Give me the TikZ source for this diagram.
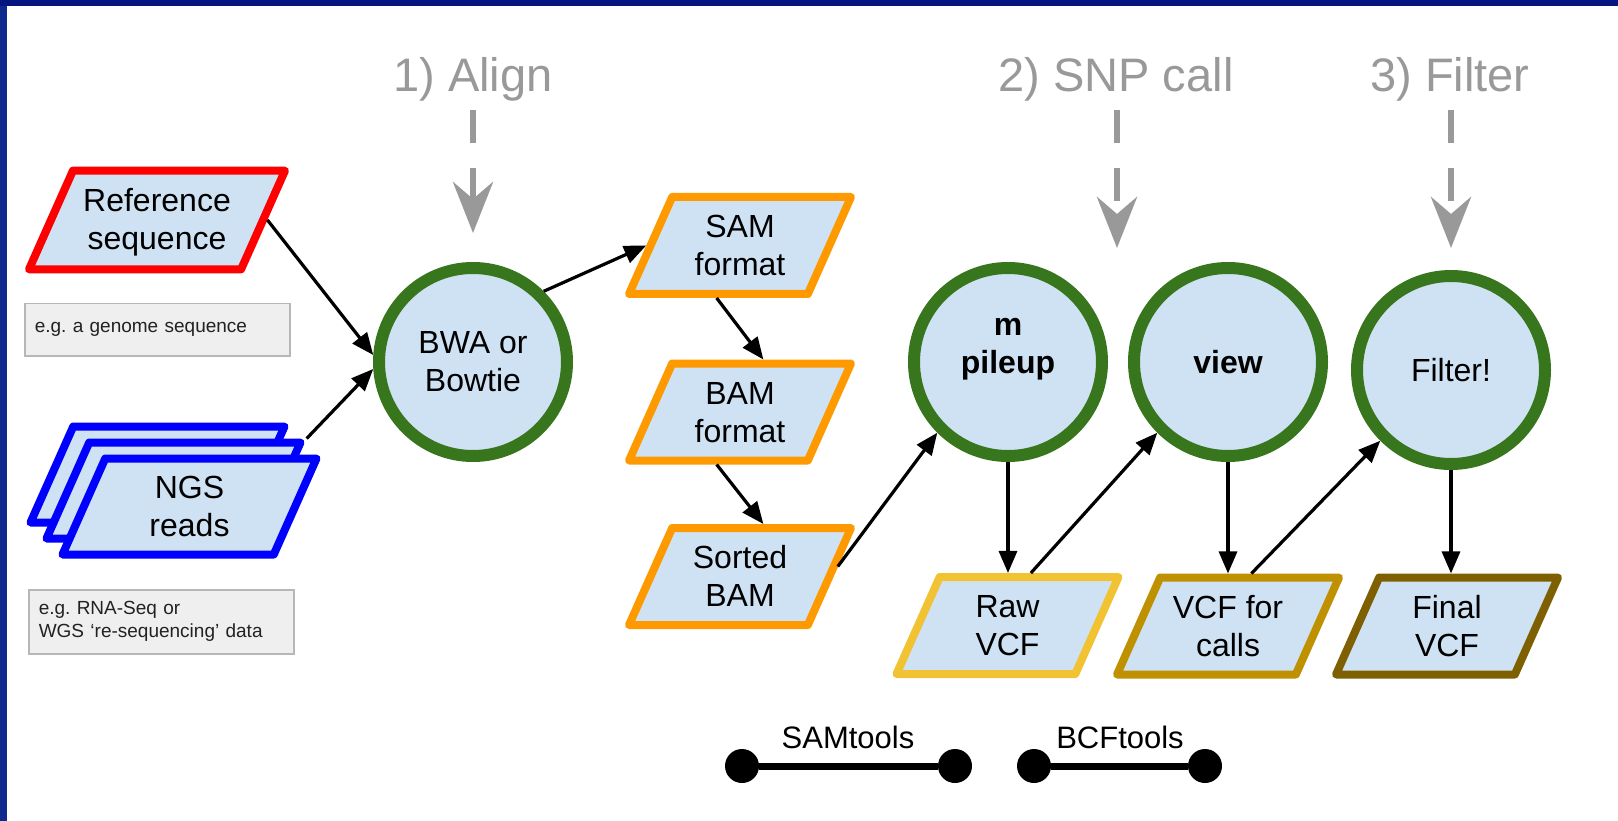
\documentclass[tikz,border=0pt]{standalone}
\usepackage{fontspec}
\setmainfont{Liberation Sans}
\usetikzlibrary{shapes.geometric,arrows.meta}
\frenchspacing

\definecolor{nodefill}{HTML}{CFE2F3}
\definecolor{ringgreen}{HTML}{38761D}
\definecolor{refred}{HTML}{FF0000}
\definecolor{readblue}{HTML}{0000FF}
\definecolor{bamorange}{HTML}{FF9900}
\definecolor{rawyellow}{HTML}{F1C232}
\definecolor{callgold}{HTML}{BF9000}
\definecolor{finalbrown}{HTML}{7F6000}
\definecolor{stepgray}{HTML}{999999}
\definecolor{notefill}{HTML}{EFEFEF}
\definecolor{noteline}{HTML}{B7B7B7}
\definecolor{notetext}{HTML}{222222}
\definecolor{frameblue}{RGB}{14,42,140}
\definecolor{framenavy}{RGB}{5,22,128}

% two-line file label with fixed height and depth, so every file box has the same natural size
\newcommand\filelabel[2]{\rule{0pt}{28pt}#1\\#2\rule[-6pt]{0pt}{6pt}}

\tikzset{
  datafile/.style={shape=trapezium, trapezium left angle=66, trapezium right angle=114,
    trapezium stretches body, minimum width=222pt, minimum height=97pt, fill=nodefill,
    line width=8pt, line join=round, inner xsep=2pt, inner ysep=12.5pt, align=center,
    font=\fontsize{32}{38}\selectfont},
  tool/.style={circle, minimum size=188pt, inner sep=0pt, fill=nodefill, draw=ringgreen,
    line width=12pt, align=center, font=\fontsize{32}{38}\selectfont},
  note/.style={rectangle, fill=notefill, draw=noteline, line width=1.5pt, inner xsep=10pt,
    inner ysep=0pt, text width=245pt, align=left, anchor=north west, text=notetext,
    font=\fontsize{19}{23}\selectfont},
  flow/.style={draw=black, line width=3.2pt, -{Triangle[length=22pt,width=18pt]}},
  stage/.style={text=stepgray, font=\fontsize{47}{50}\selectfont, anchor=base},
  stagearrow/.style={draw=stepgray, line width=6.5pt, dash pattern=on 33pt off 25pt,
    -{Stealth[length=51pt,width=40pt,inset=17pt]}},
  dot/.style={circle, fill=black, minimum size=34pt, inner sep=0pt},
  legendline/.style={draw=black, line width=7pt},
  legendtext/.style={font=\fontsize{31}{35}\selectfont, anchor=base},
}

\begin{document}
\begin{tikzpicture}[x=1pt,y=-1pt]
  % canvas and slide frame
  \useasboundingbox (0,0) rectangle (1618,821);
  \fill[white] (0,0) rectangle (1618,821);
  \fill[frameblue] (0,0) rectangle (7,821);
  \fill[framenavy] (0,0) rectangle (1618,6);

  % stage headings with their dashed pointers
  \node[stage] (align) at (473,92) {1) Align};
  \node[stage] (snpcall) at (1116,92) {2) SNP call};
  \node[stage] (filtering) at (1450,92) {3) Filter};
  \coordinate (alignFrom) at (473,110);
  \coordinate (alignTo) at (473,233);
  \coordinate (snpFrom) at (1117,110);
  \coordinate (snpTo) at (1117,248);
  \coordinate (filterFrom) at (1451,110);
  \coordinate (filterTo) at (1451,248);
  \draw[stagearrow] (alignFrom) -- (alignTo);
  \draw[stagearrow] (snpFrom) -- (snpTo);
  \draw[stagearrow] (filterFrom) -- (filterTo);

  % inputs
  \node[datafile, draw=refred, minimum width=256pt, minimum height=98pt, inner ysep=13pt] (ref) at (157,220) {\filelabel{Reference}{sequence}};
  \node[note, minimum height=52pt] (note1) at (24,303) {e.g. a genome sequence};
  \node[datafile, draw=readblue, minimum width=254pt, minimum height=96pt, inner ysep=12pt] (ngs1) at (157.5,474.5) {\filelabel{}{}};
  \node[datafile, draw=readblue, minimum width=254pt, minimum height=96pt, inner ysep=12pt] (ngs2) at (173.5,490.5) {\filelabel{}{}};
  \node[datafile, draw=readblue, minimum width=254pt, minimum height=96pt, inner ysep=12pt] (ngs) at (189.5,506.5) {\filelabel{NGS}{reads}};
  \node[note, minimum height=64pt] (note2) at (28,589) {e.g. RNA-Seq or\\WGS ‘re-sequencing’ data};

  % tools
  \node[tool] (bwa) at (473,362) {BWA or\\Bowtie};
  \node[tool, font=\bfseries\fontsize{32}{38}\selectfont] (mpileup) at (1008,362) {m\\pileup\rule[-32pt]{0pt}{32pt}};
  \node[tool, font=\bfseries\fontsize{32}{38}\selectfont] (view) at (1228,362) {view};
  \node[tool] (filter) at (1451,370) {Filter!};

  % intermediate and final files
  \node[datafile, draw=bamorange] (sam) at (740,245.5) {\filelabel{SAM}{format}};
  \node[datafile, draw=bamorange] (bam) at (740,412) {\filelabel{BAM}{format}};
  \node[datafile, draw=bamorange] (sorted) at (740,576.5) {\filelabel{Sorted}{BAM}};
  \node[datafile, draw=rawyellow] (raw) at (1007.5,625.5) {\filelabel{Raw}{VCF}};
  \node[datafile, draw=callgold] (calls) at (1228,626) {\filelabel{VCF for}{calls}};
  \node[datafile, draw=finalbrown] (final) at (1447,626) {\filelabel{Final}{VCF}};

  % data flow
  \draw[flow] (ref.right side) -- (bwa.176);
  \draw[flow] (ngs2.top right corner) -- (bwa.184);
  \draw[flow] (bwa.45) -- (sam.left side);
  \draw[flow] (sam.bottom side) -- (bam.top side);
  \draw[flow] (bam.bottom side) -- (sorted.top side);
  \draw[flow] ([xshift=4pt,yshift=10pt]sorted.right side) -- (mpileup.225);
  \draw[flow] (mpileup.south) -- (mpileup.south |- raw.north);
  \draw[flow] (raw.top side) -- (view.225);
  \draw[flow] (view.south) -- (view.south |- calls.north);
  \draw[flow] (calls.top side) -- (filter.225);
  \draw[flow] (filter.south) -- (filter.south |- final.north);

  % legend
  \node[dot] (samA) at (742,766) {};
  \node[dot] (samB) at (955,766) {};
  \draw[legendline] (samA) -- (samB);
  \node[legendtext] (samLabel) at (848,748) {SAMtools};
  \node[dot] (bcfA) at (1034,766) {};
  \node[dot] (bcfB) at (1205,766) {};
  \draw[legendline] (bcfA) -- (bcfB);
  \node[legendtext] (bcfLabel) at (1120,748) {BCFtools};
\end{tikzpicture}
\end{document}
